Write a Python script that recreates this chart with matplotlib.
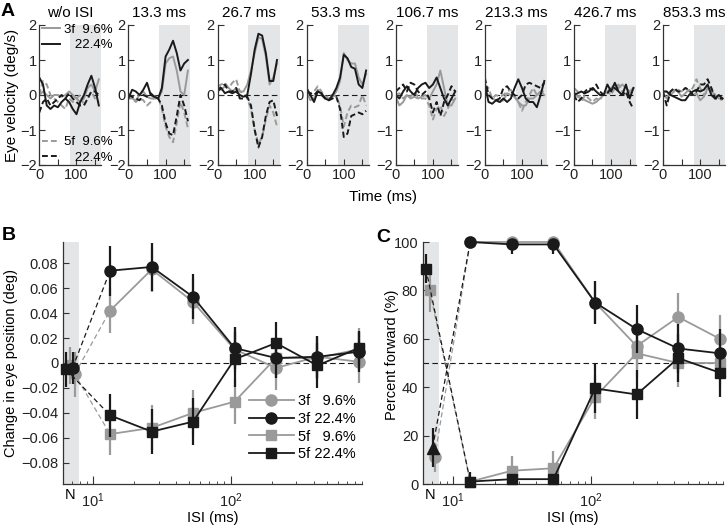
import numpy as np
import matplotlib.pyplot as plt
from matplotlib.ticker import LogLocator, NullFormatter

plt.rcParams.update({
    "font.family": ["Liberation Sans", "DejaVu Sans"],
    "font.size": 10,
    "mathtext.default": "regular",
    "axes.linewidth": 0.9,
    "axes.edgecolor": "#333333",
    "xtick.direction": "in",
    "ytick.direction": "in",
    "xtick.major.size": 4,
    "ytick.major.size": 4,
    "xtick.minor.size": 2.5,
    "xtick.color": "#333333",
    "ytick.color": "#333333",
    "xtick.labelcolor": "#222222",
    "ytick.labelcolor": "#222222",
})

GRAY = "#9a9a9a"
BLACK = "#1a1a1a"
SHADE = "#e4e5e6"

# ---------------- panel A: eye velocity traces ----------------
time_ms = [0, 10, 20, 30, 40, 50, 60, 70, 80, 90, 100, 110, 120, 130, 140, 150, 160]
isi_titles = ["w/o ISI", "13.3 ms", "26.7 ms", "53.3 ms", "106.7 ms", "213.3 ms", "426.7 ms", "853.3 ms"]

vel_3f_low = [
    [0.0, 0.1, 0.0, -0.1, 0.0, 0.0, -0.05, 0.0, 0.1, 0.0, -0.1, -0.2, -0.1, 0.2, 0.3, 0.1, 0.45],
    [-0.1, -0.1, -0.15, 0.0, 0.1, -0.05, -0.1, -0.1, -0.1, 0.1, 0.9, 1.05, 1.1, 0.7, 0.1, 0.0, 0.7],
    [0.2, 0.15, 0.25, 0.2, 0.1, 0.2, 0.1, 0.1, 0.3, 0.7, 1.2, 1.65, 1.6, 1.1, 0.3, 0.5, 0.9],
    [0.1, -0.15, -0.1, 0.15, 0.0, -0.05, -0.1, -0.05, 0.1, 0.4, 1.2, 1.0, 0.9, 0.9, 0.5, 0.3, 0.6],
    [-0.05, -0.3, -0.2, 0.0, -0.1, -0.05, -0.1, -0.05, 0.0, -0.1, 0.1, 0.3, 0.7, 0.2, -0.3, -0.3, -0.1],
    [0.1, 0.0, -0.1, -0.15, -0.2, -0.15, 0.05, 0.0, -0.05, -0.2, -0.3, -0.3, -0.1, -0.1, 0.0, 0.1, 0.0],
    [0.1, -0.05, -0.1, -0.15, -0.2, -0.25, -0.2, -0.1, 0.0, 0.1, 0.2, 0.3, 0.2, 0.3, 0.2, 0.1, 0.2],
    [0.05, -0.1, 0.1, 0.15, 0.1, -0.05, 0.05, 0.15, 0.0, 0.05, -0.15, -0.05, 0.2, 0.1, 0.0, -0.1, -0.1],
]
vel_3f_high = [
    [0.5, 0.3, -0.3, -0.4, -0.3, -0.35, -0.2, -0.1, -0.2, -0.4, -0.55, -0.2, 0.0, 0.3, 0.55, 0.2, -0.3],
    [-0.1, 0.15, 0.1, 0.0, 0.15, 0.35, 0.0, -0.05, -0.1, 0.2, 1.1, 1.3, 1.55, 1.2, 0.7, 0.9, 1.0],
    [0.1, 0.2, 0.05, 0.1, 0.05, 0.1, 0.0, -0.05, 0.0, 0.6, 1.3, 1.75, 1.7, 1.2, 0.4, 0.4, 1.0],
    [0.2, 0.0, -0.2, 0.1, 0.05, -0.1, -0.15, 0.0, 0.2, 0.5, 1.15, 1.05, 0.8, 0.75, 0.3, 0.2, 0.7],
    [0.0, -0.1, 0.1, 0.25, 0.1, 0.0, 0.2, 0.3, 0.35, 0.2, 0.3, 0.5, 0.2, -0.1, -0.3, -0.1, 0.1],
    [0.3, -0.2, -0.25, -0.15, -0.2, -0.1, -0.2, -0.1, 0.2, 0.45, 0.2, -0.1, -0.2, -0.2, -0.35, 0.0, 0.4],
    [0.0, 0.05, 0.1, 0.05, 0.1, 0.2, 0.1, 0.0, 0.0, 0.3, 0.1, 0.35, 0.1, 0.0, 0.3, -0.1, 0.2],
    [0.1, 0.1, 0.0, -0.05, -0.1, -0.15, -0.15, 0.0, 0.1, 0.15, 0.1, 0.15, 0.3, 0.0, -0.1, 0.0, -0.1],
]
vel_5f_low = [
    [0.0, 0.4, 0.3, 0.0, -0.1, -0.2, -0.3, -0.4, -0.1, -0.2, -0.1, 0.0, -0.3, -0.1, 0.1, -0.1, -0.2],
    [0.05, -0.1, -0.2, -0.1, -0.15, -0.3, -0.2, -0.05, -0.05, -0.4, -0.9, -1.2, -1.35, -0.8, -0.2, -0.5, -0.95],
    [0.25, 0.3, 0.35, 0.2, 0.35, 0.45, 0.1, 0.05, -0.1, -0.4, -1.0, -1.4, -1.2, -0.7, -0.3, -0.5, -0.9],
    [0.0, 0.05, 0.1, 0.25, 0.1, -0.1, 0.0, 0.0, -0.05, -0.3, -0.9, -0.5, -0.3, -0.35, -0.3, 0.0, -0.3],
    [0.0, 0.05, -0.1, 0.0, -0.05, 0.1, -0.05, -0.1, -0.1, -0.3, -0.7, -0.4, -0.3, -0.6, -0.4, -0.1, -0.2],
    [0.3, 0.2, -0.1, 0.0, -0.05, 0.0, 0.1, 0.15, -0.05, -0.2, -0.45, -0.2, 0.0, 0.2, 0.0, 0.1, 0.1],
    [0.2, 0.1, -0.2, 0.0, -0.1, -0.2, -0.1, -0.15, 0.05, 0.1, 0.0, 0.2, 0.3, 0.1, 0.0, 0.1, 0.0],
    [0.1, 0.1, 0.0, 0.1, 0.15, 0.1, 0.2, 0.1, 0.2, 0.45, 0.2, 0.0, 0.1, 0.2, 0.0, -0.1, -0.15],
]
vel_5f_high = [
    [-0.5, -0.2, -0.1, -0.3, -0.2, -0.1, 0.0, -0.1, 0.05, -0.1, -0.2, -0.3, -0.3, -0.1, 0.1, 0.1, 0.0],
    [0.0, -0.05, -0.1, -0.15, 0.0, -0.05, 0.05, -0.05, -0.1, -0.3, -0.8, -1.1, -1.15, -0.6, 0.0, -0.3, -0.75],
    [0.1, 0.25, 0.3, 0.1, 0.1, 0.2, -0.1, -0.1, -0.05, -0.3, -1.0, -1.5, -1.2, -0.6, -0.2, -0.15, -0.6],
    [0.1, 0.05, 0.0, 0.1, 0.0, -0.1, -0.15, -0.1, -0.05, -0.4, -1.2, -1.1, -0.6, -0.55, -0.5, -0.55, -0.45],
    [0.1, 0.2, 0.3, 0.1, 0.35, 0.3, 0.1, 0.0, 0.1, -0.1, -0.5, -0.2, -0.6, -0.2, 0.0, 0.25, 0.1],
    [0.5, 0.0, -0.1, -0.15, -0.1, 0.2, 0.25, 0.1, 0.0, -0.1, 0.0, 0.3, 0.35, 0.3, 0.25, 0.2, 0.35],
    [0.0, -0.2, -0.1, 0.1, 0.2, 0.15, 0.3, 0.1, 0.0, 0.05, 0.2, 0.2, 0.1, 0.0, 0.1, -0.2, -0.4],
    [0.1, -0.3, 0.1, 0.2, 0.1, 0.1, 0.2, 0.15, 0.0, 0.1, 0.3, 0.3, 0.45, 0.2, -0.1, -0.1, -0.1],
]

# ---------------- panels B & C: ISI dependence ----------------
isi_ms = [13.3, 26.7, 53.3, 106.7, 213.3, 426.7, 853.3]
cond_labels = ["3f   9.6%", "3f 22.4%", "5f   9.6%", "5f 22.4%"]
n_x = [7.35, 7.1, 6.75, 6.35]          # where the "N" (no-ISI) points sit

pos_3f_low = [0.042, 0.075, 0.049, 0.011, -0.004, 0.005, 0.001]
pos_3f_high = [0.074, 0.077, 0.053, 0.012, 0.004, 0.005, 0.009]
pos_5f_low = [-0.057, -0.052, -0.040, -0.031, 0.004, 0.004, 0.011]
pos_5f_high = [-0.042, -0.055, -0.047, 0.003, 0.016, -0.002, 0.012]
pos_n = [-0.009, -0.004, -0.002, -0.005]
pos_err_3f_low = [0.018, 0.018, 0.018, 0.018, 0.018, 0.017, 0.017]
pos_err_3f_high = [0.020, 0.019, 0.018, 0.017, 0.016, 0.017, 0.016]
pos_err_5f_low = [0.017, 0.018, 0.018, 0.018, 0.017, 0.017, 0.017]
pos_err_5f_high = [0.017, 0.018, 0.019, 0.022, 0.017, 0.018, 0.014]
pos_err_n = [0.018, 0.013, 0.015, 0.014]

pf_3f_low = [100, 100, 100, 75, 57, 69, 60]
pf_3f_high = [100, 99, 99, 75, 64, 56, 54]
pf_5f_low = [1, 5.5, 6.5, 36, 54, 50, 50]
pf_5f_high = [1, 2, 2, 39.5, 37, 52, 46]
pf_n = [11, 15, 80, 89]
pf_err_3f_low = [0, 1, 1, 9, 10, 10, 10]
pf_err_3f_high = [0, 4, 4, 9, 10, 10, 10]
pf_err_5f_low = [2, 6, 7, 9, 10, 10, 10]
pf_err_5f_high = [4, 2, 2, 10, 10, 10, 10]
pf_err_n = [6, 8, 9, 6]

W, H = 727, 527
fig = plt.figure(figsize=(W / 100, H / 100), dpi=100)


def px_axes(left, top, right, bottom):
    return fig.add_axes([left / W, 1 - bottom / H, (right - left) / W, (bottom - top) / H])


# ---------- A ----------
styles_a = [
    (vel_5f_low, GRAY, "--"),
    (vel_3f_low, GRAY, "-"),
    (vel_5f_high, BLACK, "--"),
    (vel_3f_high, BLACK, "-"),
]
leg_kw = dict(frameon=False, fontsize=9.5, handlelength=1.35, handletextpad=0.3,
              labelspacing=0.25, borderaxespad=0.0, borderpad=0.1)
for i, title in enumerate(isi_titles):
    left = 39.3 + i * 89.1
    ax = px_axes(left, 25, left + 62, 165)
    ax.axvspan(83.3, 166.7, color=SHADE, lw=0, zorder=0)
    ax.axhline(0, color=BLACK, lw=0.8, dashes=(5, 3), zorder=1)
    handles = []
    for data, col, ls in styles_a:
        kw = dict(dashes=(3, 1.6)) if ls == "--" else {}
        (ln,) = ax.plot(time_ms, data[i], color=col, lw=1.4, **kw)
        handles.append(ln)
    ax.set_xlim(0, 166.7)
    ax.set_ylim(-2, 2)
    ax.set_xticks([0, 50, 100, 150])
    ax.set_xticklabels(["0", "", "100", ""])
    ax.set_yticks([-2, -1, 0, 1, 2])
    ax.set_yticklabels(["\u22122", "\u22121", "0", "1", "2"])
    ax.tick_params(labelsize=10.5, pad=2)
    for s in ("top", "right"):
        ax.spines[s].set_visible(False)
    ax.set_title(title, fontsize=11, pad=6)
    if i == 0:
        leg1 = ax.legend([handles[1], handles[3]], ["3f  9.6%", "   22.4%"],
                         loc="upper left", bbox_to_anchor=(0.02, 1.02), **leg_kw)
        ax.add_artist(leg1)
        ax.legend([handles[0], handles[2]], ["5f  9.6%", "   22.4%"],
                  loc="lower left", bbox_to_anchor=(0.02, 0.0), **leg_kw)

fig.text(12 / W, 1 - 95 / H, "Eye velocity (deg/s)", rotation=90, ha="center", va="center", fontsize=11)
fig.text(383 / W, 1 - 197 / H, "Time (ms)", ha="center", va="center", fontsize=11)

# ---------- B & C ----------
cond_style = [
    (GRAY, "o", 8),
    (BLACK, "o", 8),
    (GRAY, "s", 7),
    (BLACK, "s", 7),
]


def isi_panel(ax, series, errs, n_vals, n_errs, hline, n_markers):
    ax.axvspan(5.0, 7.9, color=SHADE, lw=0, zorder=0)
    ax.axhline(hline, color=BLACK, lw=0.8, dashes=(5, 3), zorder=1)
    lines = []
    for k, (vals, err) in enumerate(zip(series, errs)):
        col, mk, ms = cond_style[k]
        z = 3 if col == GRAY else 4
        ax.plot([n_x[k], isi_ms[0]], [n_vals[k], vals[0]], color=col, lw=0.9,
                dashes=(4, 2.5), zorder=z)
        ax.errorbar(isi_ms, vals, yerr=err, fmt="none", ecolor=col, elinewidth=1.6,
                    capsize=0, zorder=z)
        (ln,) = ax.plot(isi_ms, vals, color=col, lw=1.3, marker=mk, ms=ms,
                        mfc=col, mec=col, zorder=z + 0.5, clip_on=False)
        ax.errorbar([n_x[k]], [n_vals[k]], yerr=[n_errs[k]], fmt="none", ecolor=col,
                    elinewidth=1.6, capsize=0, zorder=z)
        ax.plot([n_x[k]], [n_vals[k]], ls="none", marker=n_markers[k], ms=ms,
                mfc=col, mec=col, zorder=z + 0.5, clip_on=False)
        lines.append(ln)
    ax.set_xscale("log")
    ax.set_xlim(6.05, 900)
    ax.set_xticks([10, 100])
    ax.set_xticklabels(["$10^1$", "$10^2$"])
    ax.xaxis.set_minor_locator(LogLocator(base=10, subs=np.arange(2, 10)))
    ax.xaxis.set_minor_formatter(NullFormatter())
    ax.text(6.8, -0.045, "N", transform=ax.get_xaxis_transform(), ha="center", va="center",
            fontsize=10.5)
    ax.set_xlabel("ISI (ms)", fontsize=10.5, labelpad=1)
    ax.tick_params(labelsize=10.5)
    ax.tick_params(axis="x", which="major", length=6, pad=5)
    for s in ("top", "right"):
        ax.spines[s].set_visible(False)
    return lines


axB = px_axes(63, 242, 362, 484)
linesB = isi_panel(axB, [pos_3f_low, pos_3f_high, pos_5f_low, pos_5f_high],
                   [pos_err_3f_low, pos_err_3f_high, pos_err_5f_low, pos_err_5f_high],
                   pos_n, pos_err_n, 0.0, ["o", "o", "s", "s"])
axB.set_ylim(-0.097, 0.097)
yt = [-0.08, -0.06, -0.04, -0.02, 0, 0.02, 0.04, 0.06, 0.08]
axB.set_yticks(yt)
axB.set_yticklabels([("0" if v == 0 else f"{v:.2f}".replace("-", "\u2212")) for v in yt])
axB.legend(linesB, cond_labels, loc="lower right", bbox_to_anchor=(1.0, 0.07),
           frameon=False, fontsize=10.5, handlelength=3.1, handletextpad=0.3,
           labelspacing=0.25, borderaxespad=0.0)
fig.text(11 / W, 1 - 363 / H, "Change in eye position (deg)", rotation=90,
         ha="center", va="center", fontsize=10.5)

axC = px_axes(423, 242, 723, 484)
isi_panel(axC, [pf_3f_low, pf_3f_high, pf_5f_low, pf_5f_high],
          [pf_err_3f_low, pf_err_3f_high, pf_err_5f_low, pf_err_5f_high],
          pf_n, pf_err_n, 50.0, ["o", "^", "s", "s"])
axC.set_ylim(0, 100)
axC.set_yticks([0, 20, 40, 60, 80, 100])
fig.text(392 / W, 1 - 355 / H, "Percent forward (%)", rotation=90,
         ha="center", va="center", fontsize=10.5)

fig.text(8 / W, 1 - 12 / H, "A", fontsize=14, fontweight="bold", ha="center", va="center")
fig.text(9 / W, 1 - 236 / H, "B", fontsize=14, fontweight="bold", ha="center", va="center")
fig.text(383 / W, 1 - 237 / H, "C", fontsize=14, fontweight="bold", ha="center", va="center")

fig.savefig("out.png", dpi=100)
